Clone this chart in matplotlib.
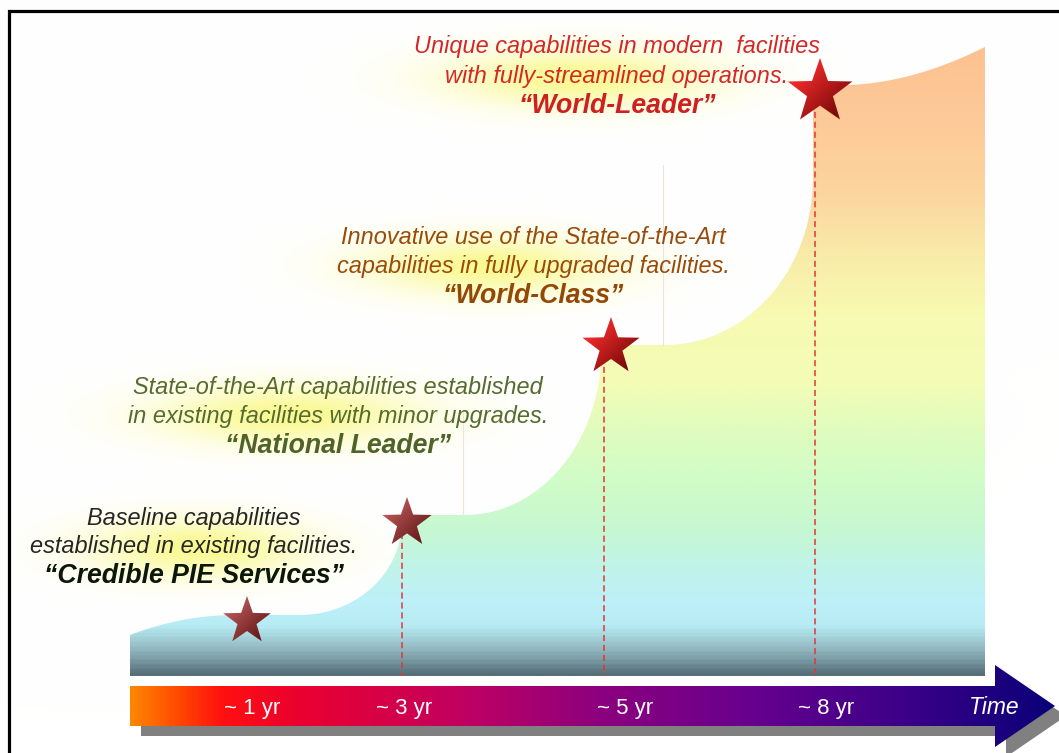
import numpy as np
import matplotlib
matplotlib.use("Agg")
import matplotlib.pyplot as plt
from matplotlib.path import Path
from matplotlib.patches import PathPatch, Polygon
from matplotlib.colors import LinearSegmentedColormap, to_rgb

# ---------------- data ----------------
time_labels = ["~ 1 yr", "~ 3 yr", "~ 5 yr", "~ 8 yr"]
axis_label = "Time"
stage_lines = [
    ["Baseline capabilities", "established in existing facilities."],
    ["State-of-the-Art capabilities established", "in existing facilities with minor upgrades."],
    ["Innovative use of the State-of-the-Art", "capabilities in fully upgraded facilities."],
    ["Unique capabilities in modern  facilities", "with fully-streamlined operations."],
]
stage_titles = ["\u201cCredible PIE Services\u201d", "\u201cNational Leader\u201d",
                "\u201cWorld-Class\u201d", "\u201cWorld-Leader\u201d"]

# ---------------- layout / style ----------------
W, H = 1059, 753
FONT = "Liberation Sans"
text_colors = ["#262626", "#566b2e", "#9a4a0a", "#d42828"]
title_colors = ["#0c170c", "#4f6228", "#944806", "#cf2020"]
text_cx = [194, 338, 533, 617]
text_base = [(525, 553, 583), (394, 423, 453), (244, 273, 303), (53, 83, 113)]
label_x = [252, 404, 625, 826]
star_pos = [(247, 621, 25), (407, 523, 26), (611, 347, 30), (820, 92, 34)]
star_cols = [("#b45454", "#6a1c1c"), ("#b45454", "#6a1c1c"),
             ("#f22a2a", "#7e0c0c"), ("#f22a2a", "#7e0c0c")]
dash_x = [None, 402, 604, 815]
glows = [(200, 548, 125, 34), (290, 415, 150, 34), (490, 266, 140, 34), (578, 78, 150, 34)]

fig = plt.figure(figsize=(W / 100, H / 100), dpi=100)
ax = fig.add_axes([0, 0, 1, 1])
ax.axis("off")

# ---- background with yellow glows behind the text ----
X, Y = np.meshgrid(np.arange(W) + 0.5, np.arange(H) + 0.5)
strength = np.zeros((H, W))
for (cx, cy, rx, ry) in glows:
    d2 = ((X - cx) / rx) ** 2 + ((Y - cy) / ry) ** 2
    strength = np.maximum(strength, 0.85 * np.exp(-1.4 * d2))
yel = np.array(to_rgb("#f9f87e"))
bg = np.ones((H, W, 3)) * (1 - strength[..., None]) + yel * strength[..., None]
ax.imshow(bg, extent=(0, W, H, 0), origin="upper", aspect="auto", zorder=0,
          interpolation="nearest")


# ---- rising area ----
def quarter(x0, y0, x1, y1, n=50):
    t = np.linspace(0, np.pi / 2, n)
    return x0 + (x1 - x0) * np.sin(t), y1 + (y0 - y1) * np.cos(t)


pts_x, pts_y = [], []
s = np.linspace(0, 1, 30)
pts_x += list(130 + 105 * s); pts_y += list(635 - 20 * (1 - (1 - s) ** 2))
qx, qy = quarter(300, 615, 402, 521); pts_x += list(qx); pts_y += list(qy)
pts_x += [402]; pts_y += [515]
qx, qy = quarter(465, 515, 601, 352); pts_x += list(qx); pts_y += list(qy)
pts_x += [601]; pts_y += [345]
qx, qy = quarter(665, 345, 813, 178); pts_x += list(qx); pts_y += list(qy)
pts_x += [813, 850]; pts_y += [85, 85]
t = np.linspace(0, 1, 40)
bx = (1 - t) ** 2 * 850 + 2 * (1 - t) * t * 915 + t ** 2 * 985
by = (1 - t) ** 2 * 85 + 2 * (1 - t) * t * 82 + t ** 2 * 47
pts_x += list(bx); pts_y += list(by)
pts_x += [985, 130]; pts_y += [676, 676]
area_path = Path(np.column_stack([pts_x, pts_y]))
area_patch = PathPatch(area_path, facecolor="none", edgecolor="none")
ax.add_patch(area_patch)

stops = [(40, "#fdc090"), (83, "#fdc595"), (189, "#fcd49e"), (252, "#f9eaa8"),
         (315, "#f7fab2"), (379, "#f4fcb5"), (442, "#dcfcc0"), (484, "#d0fcc8"),
         (526, "#c8f8d0"), (568, "#c0f4e8"), (602, "#bdf0f8"), (627, "#b8ecf4"),
         (653, "#8fb3bb"), (676, "#56707a")]
y0s, y1s = stops[0][0], stops[-1][0]
cmap_area = LinearSegmentedColormap.from_list(
    "area", [((y - y0s) / (y1s - y0s), c) for y, c in stops])
grad = np.linspace(0, 1, 400).reshape(-1, 1)
im = ax.imshow(grad, cmap=cmap_area, extent=(130, 985, y1s, y0s), origin="upper",
               aspect="auto", zorder=2)
im.set_clip_path(area_patch)

# faint box edges
ax.plot([463, 463], [410, 515], color="#ece6d6", lw=0.8, zorder=2.5)
ax.plot([663, 663], [165, 345], color="#ece6d6", lw=0.8, zorder=2.5)

# ---- dashed guide lines ----
for i, dx in enumerate(dash_x):
    if dx is None:
        continue
    ax.plot([dx, dx], [star_pos[i][1], 676], color="#e53535", lw=1.1,
            dashes=(4, 2.5), zorder=3)


# ---- stars ----
def star_vertices(cx, cy, r):
    ang = np.pi / 2 + np.arange(10) * np.pi / 5
    rad = np.where(np.arange(10) % 2 == 0, r, r * 0.40)
    return np.column_stack([cx + rad * np.cos(ang), cy - rad * np.sin(ang)])


for (cx, cy, r), (c1, c2) in zip(star_pos, star_cols):
    poly = Polygon(star_vertices(cx, cy, r), closed=True, facecolor="none",
                   edgecolor="none")
    ax.add_patch(poly)
    xs = np.linspace(-1, 1, 60)
    SX, SY = np.meshgrid(xs, xs)
    G = np.clip((SX + SY) / 2 * 0.9 + 0.5, 0, 1)
    cm = LinearSegmentedColormap.from_list("st", [c1, c2])
    sim = ax.imshow(G, cmap=cm, extent=(cx - r, cx + r, cy + r, cy - r),
                    origin="upper", aspect="auto", zorder=4)
    sim.set_clip_path(poly)

# ---- stage texts ----
for i in range(4):
    for j, line in enumerate(stage_lines[i]):
        ax.text(text_cx[i], text_base[i][j], line, ha="center", va="baseline",
                fontsize=16.9, fontstyle="italic", family=FONT,
                color=text_colors[i], zorder=5)
    ax.text(text_cx[i], text_base[i][2], stage_titles[i], ha="center", va="baseline",
            fontsize=19.2, fontstyle="italic", fontweight="bold", family=FONT,
            color=title_colors[i], zorder=5)

# ---- time arrow ----
arrow = np.array([(130, 686), (995, 686), (995, 665), (1055, 706), (995, 747),
                  (995, 726), (130, 726)])
shadow = Polygon(arrow + np.array([11, 10]), closed=True, facecolor="#808080",
                 edgecolor="none", zorder=2.8)
ax.add_patch(shadow)
arr_patch = Polygon(arrow, closed=True, facecolor="none", edgecolor="none")
ax.add_patch(arr_patch)
astops = [(130, "#ff8400"), (175, "#ff4a00"), (220, "#ff1010"), (300, "#ea0030"),
          (400, "#d2004c"), (480, "#ba0066"), (600, "#8c007e"), (750, "#68008e"),
          (900, "#3e0088"), (1055, "#0a0078")]
ax0, ax1 = astops[0][0], astops[-1][0]
cmap_arr = LinearSegmentedColormap.from_list(
    "arr", [((x - ax0) / (ax1 - ax0), c) for x, c in astops])
agrad = np.linspace(0, 1, 600).reshape(1, -1)
aim = ax.imshow(agrad, cmap=cmap_arr, extent=(130, 1055, 747, 665), origin="upper",
                aspect="auto", zorder=3)
aim.set_clip_path(arr_patch)

for x, lab in zip(label_x, time_labels):
    ax.text(x, 714, lab, ha="center", va="baseline", fontsize=16, family=FONT,
            color="white", zorder=5)
ax.text(994, 714, axis_label, ha="center", va="baseline", fontsize=16.5,
        fontstyle="italic", family=FONT, color="white", zorder=5)

# ---- frame ----
ax.plot([9, 9, W + 5], [H + 5, 11, 11], color="black", lw=2.3,
        solid_joinstyle="miter", zorder=6)

ax.set_xlim(0, W)
ax.set_ylim(H, 0)
fig.savefig("out.png", dpi=100)
